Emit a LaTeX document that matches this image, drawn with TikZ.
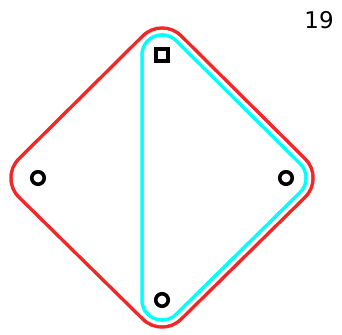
\documentclass[tikz,border=0pt]{standalone}
\usepackage{fontspec}
\setmainfont{DejaVu Sans}
\definecolor{hullred}{RGB}{240,40,40}
\definecolor{hullcyan}{RGB}{0,255,255}
\tikzset{
  pt/.style={circle,draw=black,line width=3.6pt,minimum size=12.5pt,inner sep=0pt},
  sq/.style={rectangle,draw=black,line width=3.6pt,minimum size=12pt,inner sep=0pt},
  hull/.style={line join=round},
}
\begin{document}
\begin{tikzpicture}[x=1pt,y=-1pt]
\useasboundingbox (0,0) rectangle (342,334);
\coordinate (t) at (162,55);
\coordinate (l) at (38,178);
\coordinate (r) at (286,178);
\coordinate (b) at (162,300);
% red hull (offset ~27)
\filldraw[hull,hullred,line width=57.5pt] (t) -- (r) -- (b) -- (l) -- cycle;
\filldraw[hull,white,line width=50.5pt] (t) -- (r) -- (b) -- (l) -- cycle;
% cyan hull (offset ~20)
\filldraw[hull,hullcyan,line width=43.5pt] (t) -- (r) -- (b) -- cycle;
\filldraw[hull,white,line width=36.5pt] (t) -- (r) -- (b) -- cycle;
% points
\node[sq] (nt) at (t) {};
\node[pt] (nl) at (l) {};
\node[pt] (nr) at (r) {};
\node[pt] (nb) at (b) {};
\node[font=\fontsize{23}{26}\selectfont] (lab) at (319,20) {19};
\end{tikzpicture}
\end{document}
